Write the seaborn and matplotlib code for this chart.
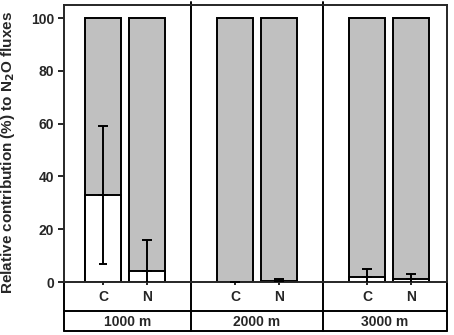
import pandas as pd
import matplotlib
matplotlib.use('Agg')
import matplotlib.pyplot as plt
import seaborn as sns

# Data
depths = ['1000 m', '2000 m', '3000 m']
treatments = ['C', 'N']
white_pct = [33, 4, 0, 0.2, 2, 1]   # lower (white) part of each bar
white_err = [26, 12, 0, 0.8, 3, 2]  # error bar (upper side)
total_pct = [100, 100, 100, 100, 100, 100]

# Build table: C/N within each depth, one empty slot between depths
rows = []
k = 0
for g, d in enumerate(depths):
    for t_i, t in enumerate(treatments):
        rows.append({'depth': d, 'treatment': t, 'pos': 3 * g + t_i,
                     'white': white_pct[k], 'err': white_err[k], 'total': total_pct[k]})
        k += 1
df = pd.DataFrame(rows)

sns.set_style('ticks')
plt.rcParams['font.family'] = ['Liberation Sans', 'DejaVu Sans']
plt.rcParams['font.weight'] = 'bold'

fig = plt.figure(figsize=(4.54, 3.35), dpi=100)
ax = fig.add_axes([64 / 454, 53 / 335, 383 / 454, 277 / 335])

lw = 1.4
sns.barplot(data=df, x='pos', y='total', native_scale=True, width=0.82,
            color='#c0c0c0', saturation=1, edgecolor='black', linewidth=lw, ax=ax)
sns.barplot(data=df, x='pos', y='white', native_scale=True, width=0.82,
            color='white', saturation=1, edgecolor='black', linewidth=lw, ax=ax)
ax.errorbar(df['pos'], df['white'], yerr=[[0] * len(df), df['err']], fmt='none',
            ecolor='black', elinewidth=lw, capsize=3.6, capthick=lw, zorder=5)
# lower side of error bars (clipped at 0)
ax.vlines(df['pos'], [max(w - e, 0) for w, e in zip(df['white'], df['err'])], df['white'],
          colors='black', linewidth=lw, zorder=5)
lo = df[df['white'] - df['err'] > 0]
ax.hlines(lo['white'] - lo['err'], lo['pos'] - 0.082, lo['pos'] + 0.082,
          colors='black', linewidth=lw, zorder=5)

xmin, xmax = -0.886, 7.82
ax.set_xlim(xmin, xmax)
ax.set_ylim(0, 105)
ax.set_yticks([0, 20, 40, 60, 80, 100])
ax.set_xticks(df['pos'])
ax.set_xticklabels([])
ax.tick_params(axis='y', direction='out', length=4, width=lw, labelsize=10, pad=3)
ax.tick_params(axis='x', direction='out', length=2.5, width=lw)
for lab in ax.get_yticklabels():
    lab.set_fontweight('bold')
ax.set_xlabel('')
ax.set_ylabel('Relative contribution (%) to N$_\\mathbf{2}$O fluxes', fontsize=11,
              fontweight='bold')
ax.yaxis.set_label_coords(-0.122, 0.466)
for s in ax.spines.values():
    s.set_linewidth(lw)
    s.set_visible(True)

# panel separators and lower label boxes
y_mid, y_bot = -29 / 277, -49 / 277
xt = ax.get_xaxis_transform()
for xb in [2, 5]:
    ax.plot([xb, xb], [1.01, y_bot], transform=xt, color='black', lw=lw, clip_on=False)
for xb in [xmin, xmax]:
    ax.plot([xb, xb], [0, y_bot], transform=xt, color='black', lw=lw, clip_on=False)
for yb in [y_mid, y_bot]:
    ax.plot([xmin, xmax], [yb, yb], transform=xt, color='black', lw=lw, clip_on=False)

for _, r in df.iterrows():
    ax.text(r['pos'], -15 / 277, r['treatment'], transform=xt, ha='center', va='center',
            fontsize=10, fontweight='bold')
bounds = [xmin, 2, 5, xmax]
for g, d in enumerate(depths):
    ax.text((bounds[g] + bounds[g + 1]) / 2, -39.5 / 277, d, transform=xt, ha='center',
            va='center', fontsize=10, fontweight='bold')

fig.savefig('out.png', dpi=100)
